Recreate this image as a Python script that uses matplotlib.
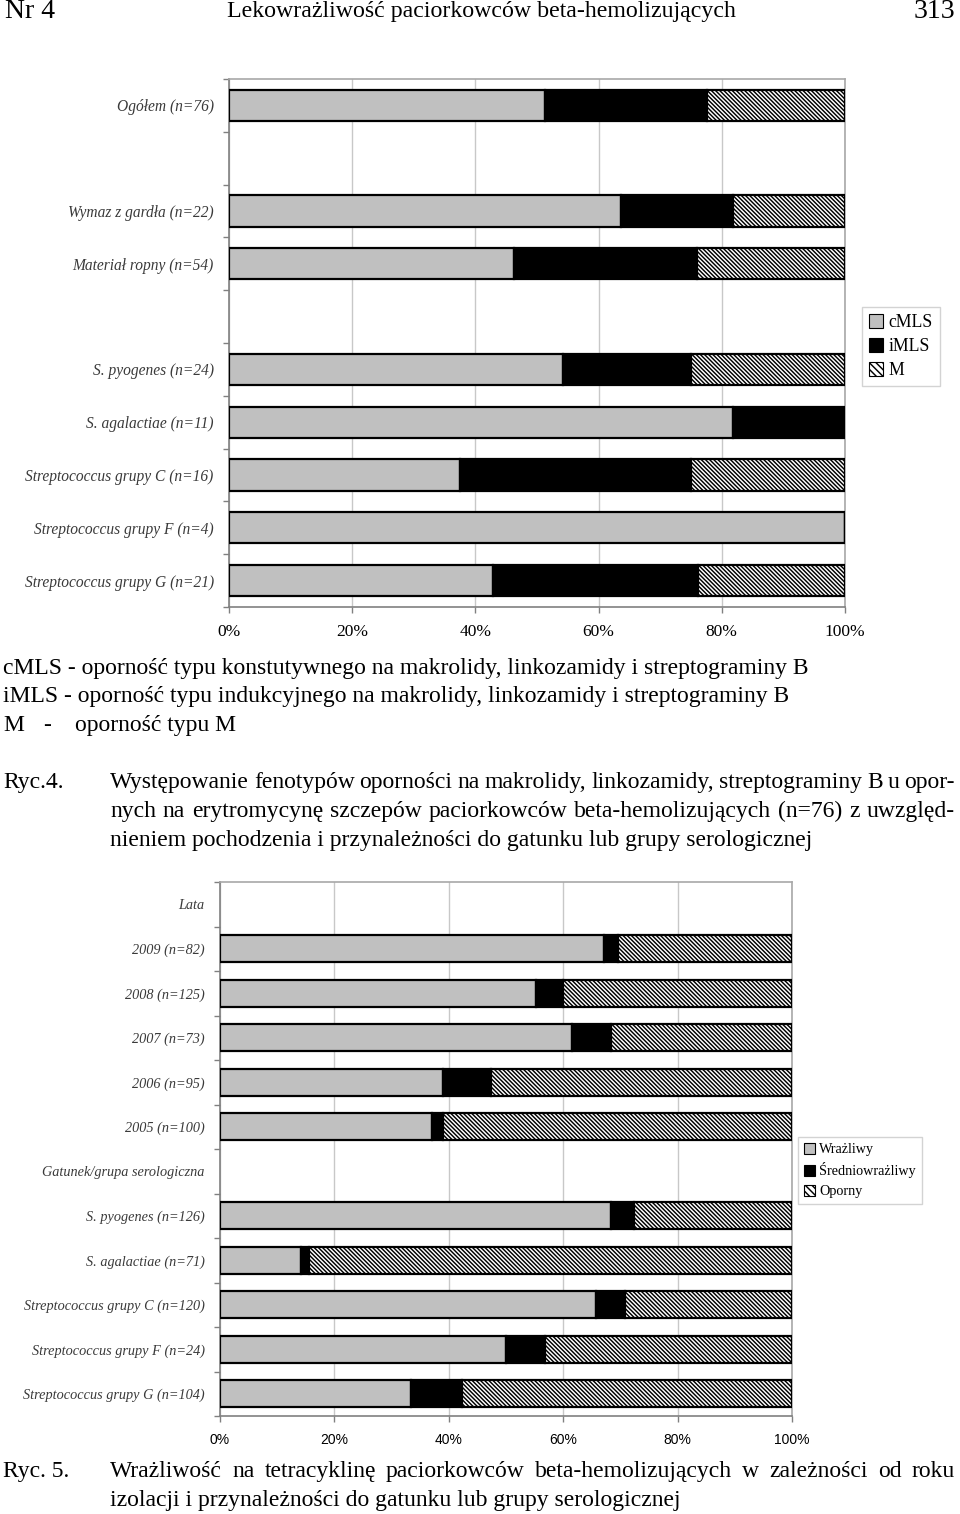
import matplotlib
matplotlib.use("Agg")
import matplotlib.pyplot as plt
from matplotlib.patches import Patch
import numpy as np

# ---------------- data ----------------
top_labels = ["Ogółem (n=76)", "", "Wymaz z gardła (n=22)", "Materiał ropny (n=54)", "",
              "S. pyogenes (n=24)", "S. agalactiae (n=11)", "Streptococcus grupy C (n=16)",
              "Streptococcus grupy F (n=4)", "Streptococcus grupy G (n=21)"]
top_cmls = [51.3, 0, 63.6, 46.3, 0, 54.2, 81.8, 37.5, 100.0, 42.9]
top_imls = [26.3, 0, 18.2, 29.6, 0, 20.8, 18.2, 37.5, 0.0, 33.3]
top_m = [22.4, 0, 18.2, 24.1, 0, 25.0, 0.0, 25.0, 0.0, 23.8]
top_series = ["cMLS", "iMLS", "M"]

bot_labels = ["Lata", "2009 (n=82)", "2008 (n=125)", "2007 (n=73)", "2006 (n=95)", "2005 (n=100)",
              "Gatunek/grupa serologiczna", "S. pyogenes (n=126)", "S. agalactiae (n=71)",
              "Streptococcus grupy C (n=120)", "Streptococcus grupy F (n=24)",
              "Streptococcus grupy G (n=104)"]
bot_wr = [0, 67.1, 55.2, 61.6, 38.9, 37.0, 0, 68.3, 14.1, 65.8, 50.0, 33.4]
bot_sr = [0, 2.4, 4.8, 6.8, 8.4, 2.0, 0, 4.0, 1.4, 5.0, 6.8, 8.9]
bot_op = [0, 30.5, 40.0, 31.6, 52.7, 61.0, 0, 27.7, 84.5, 29.2, 43.2, 57.7]
bot_series = ["Wrażliwy", "Średniowrażliwy", "Oporny"]

xticks = [0, 20, 40, 60, 80, 100]
xticklabels = ["0%", "20%", "40%", "60%", "80%", "100%"]

# ---------------- style ----------------
W, H = 960, 1514
DPI = 100
plt.rcParams['hatch.linewidth'] = 1.05
fig = plt.figure(figsize=(W / DPI, H / DPI), dpi=DPI)
SERIF = ["Liberation Serif", "DejaVu Serif"]
SANS = ["Liberation Sans", "DejaVu Sans"]
GRAY = "#c0c0c0"
HATCH = "\\" * 8
LEG_HATCH = "\\" * 5
BODY = 17
BASE = 6  # px from visual line centre to baseline


def px_axes(x0, x1, y0, y1):
    return fig.add_axes([x0 / W, 1 - y1 / H, (x1 - x0) / W, (y1 - y0) / H])


def stacked(ax, labels, a, b, c, height, lab_size, tick_font, tick_size, lab_color, pad):
    n = len(labels)
    y = np.arange(n)
    a = np.array(a); b = np.array(b); c = np.array(c)
    mask = (a + b + c) > 0
    ax.barh(y[mask], a[mask], height=height, color=GRAY, edgecolor="black", linewidth=1.6, zorder=3)
    ax.barh(y[mask], b[mask], left=a[mask], height=height, color="black", edgecolor="black",
            linewidth=1.6, zorder=3)
    ax.barh(y[mask], c[mask], left=(a + b)[mask], height=height, color="white", edgecolor="black",
            hatch=HATCH, linewidth=1.6, zorder=3)
    ax.set_xlim(0, 100)
    ax.set_ylim(n - 0.5, -0.5)
    ax.set_xticks(xticks)
    ax.set_xticklabels(xticklabels, family=tick_font, fontsize=tick_size)
    ax.set_yticks(np.arange(n + 1) - 0.5)
    ax.set_yticklabels([])
    ax.set_yticks(y, minor=True)
    ax.set_yticklabels(labels, minor=True, family=SERIF, style="italic", fontsize=lab_size,
                       color=lab_color)
    ax.tick_params(axis="y", which="minor", length=0, pad=pad)
    ax.tick_params(axis="y", which="major", length=4, color="#808080", width=1)
    ax.tick_params(axis="x", which="major", length=4, color="#808080", width=1, pad=8)
    ax.grid(axis="x", color="#c8c8c8", linewidth=1, zorder=0)
    for s in ["left", "bottom"]:
        ax.spines[s].set_color("#808080")
        ax.spines[s].set_linewidth(1.2)
    for s in ["top", "right"]:
        ax.spines[s].set_color("#a8a8a8")
        ax.spines[s].set_linewidth(1.2)


renderer = fig.canvas.get_renderer()


def body(xpx, ypx, s, size=BODY, ha="left"):
    return fig.text(xpx / W, 1 - (ypx + BASE) / H, s, family=SERIF, fontsize=size,
                    va="baseline", ha=ha)


def justified(line, x0, x1, ypx, size=BODY):
    words = line.split(" ")
    texts = [body(0, ypx, w, size) for w in words]
    widths = [t.get_window_extent(renderer).width for t in texts]
    gap = ((x1 - x0) - sum(widths)) / max(len(words) - 1, 1)
    x = x0
    for t, w in zip(texts, widths):
        t.set_x(x / W)
        x += w + gap


# ---------------- header ----------------
fig.text(5 / W, 1 - 12 / H, "Nr 4", family=SERIF, fontsize=20, va="center", ha="left")
fig.text(481 / W, 1 - 12 / H, "Lekowrażliwość paciorkowców beta-hemolizujących", family=SERIF,
         fontsize=17.2, va="center", ha="center")
fig.text(955 / W, 1 - 12 / H, "313", family=SERIF, fontsize=20, va="center", ha="right")

# ---------------- top chart ----------------
ax1 = px_axes(229, 845, 79, 607)
stacked(ax1, top_labels, top_cmls, top_imls, top_m, 0.59, 11.2, SERIF, 12.5, "#3a3a3a", 11)
h1 = [Patch(facecolor=GRAY, edgecolor="black", linewidth=0.8),
      Patch(facecolor="black", edgecolor="black", linewidth=0.8),
      Patch(facecolor="white", edgecolor="black", hatch=LEG_HATCH, linewidth=0.8)]
leg1 = fig.legend(h1, top_series, loc="upper left", bbox_to_anchor=(862 / W, 1 - 307 / H),
                  prop={"family": SERIF, "size": 12.8}, frameon=True, fancybox=False,
                  edgecolor="#c8c8c8", handlelength=0.8, handleheight=0.8, handletextpad=0.3,
                  labelspacing=0.4, borderpad=0.4, borderaxespad=0)
leg1.get_frame().set_linewidth(1)

# ---------------- legend text ----------------
body(3, 668, "cMLS - oporność typu konstutywnego na makrolidy, linkozamidy i streptograminy B")
body(3, 696, "iMLS - oporność typu indukcyjnego na makrolidy, linkozamidy i streptograminy B")
body(3, 725, "M")
body(43, 725, "-")
body(75, 725, "oporność typu M")

body(3, 782, "Ryc.4.")
cap4 = ["Występowanie fenotypów oporności na makrolidy, linkozamidy, streptograminy B u opor-",
        "nych na erytromycynę szczepów paciorkowców beta-hemolizujących (n=76) z uwzględ-",
        "nieniem pochodzenia i przynależności do gatunku lub grupy serologicznej"]
justified(cap4[0], 110, 955, 782)
justified(cap4[1], 110, 955, 811)
body(110, 840, cap4[2])

# ---------------- bottom chart ----------------
ax2 = px_axes(220, 792, 882, 1416)
stacked(ax2, bot_labels, bot_wr, bot_sr, bot_op, 0.61, 10.3, SANS, 10, "#3a3a3a", 11)
h2 = [Patch(facecolor=GRAY, edgecolor="black", linewidth=0.8),
      Patch(facecolor="black", edgecolor="black", linewidth=0.8),
      Patch(facecolor="white", edgecolor="black", hatch=LEG_HATCH, linewidth=0.8)]
leg2 = fig.legend(h2, bot_series, loc="upper left", bbox_to_anchor=(798 / W, 1 - 1137 / H),
                  prop={"family": SERIF, "size": 10.2}, frameon=True, fancybox=False,
                  edgecolor="#c8c8c8", handlelength=0.8, handleheight=0.8, handletextpad=0.3,
                  labelspacing=0.45, borderpad=0.4, borderaxespad=0)
leg2.get_frame().set_linewidth(1)

body(3, 1471, "Ryc. 5.")
justified("Wrażliwość na tetracyklinę paciorkowców beta-hemolizujących w zależności od roku",
          110, 955, 1471)
body(110, 1500, "izolacji i przynależności do gatunku lub grupy serologicznej")

fig.savefig("out.png", dpi=DPI)
